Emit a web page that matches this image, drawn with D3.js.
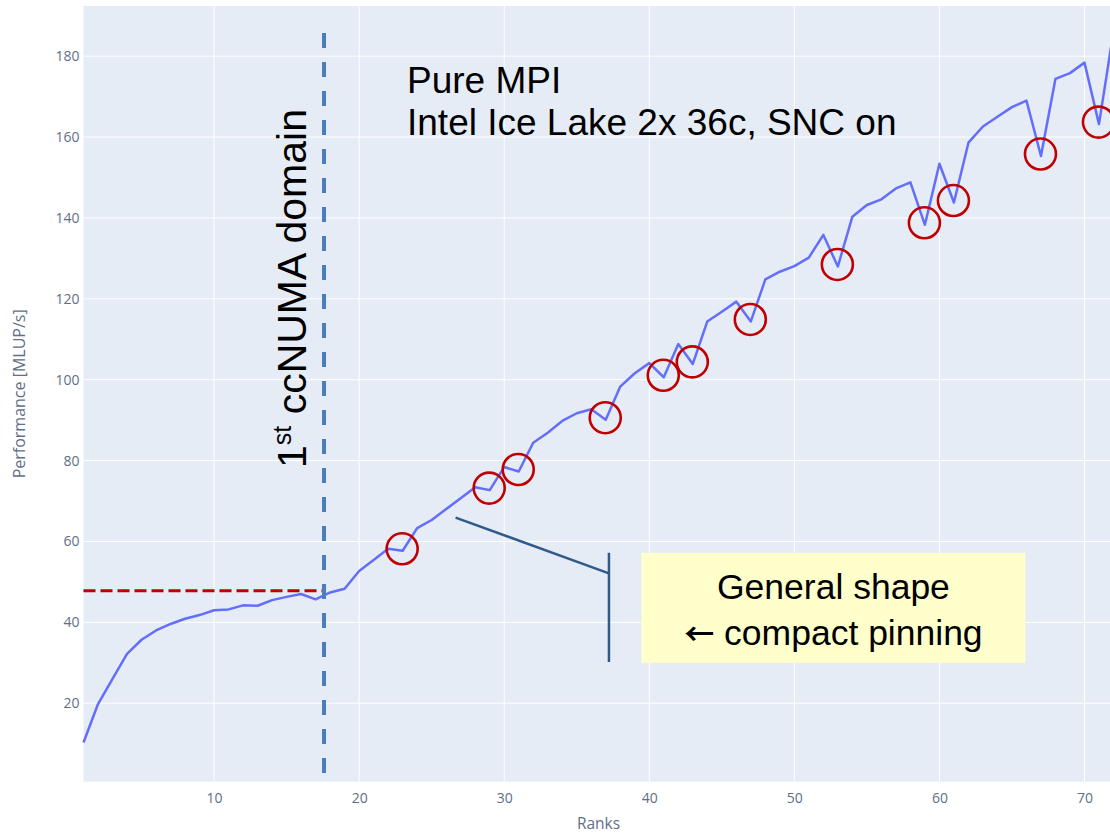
<!DOCTYPE html>
<html>
<head>
<meta charset="utf-8">
<script src="https://cdn.jsdelivr.net/npm/d3@7"></script>
<style>
  html, body { margin: 0; padding: 0; background: #fff; }
  svg { display: block; }
</style>
</head>
<body>
<div id="chart"></div>
<script>
// Performance per number of ranks
const ranks = d3.range(1, 73);
const perf = [
  10.3, 19.8, 26.0, 32.2, 35.7, 38.0, 39.6, 40.9, 41.8, 43.0,
  43.2, 44.2, 44.1, 45.5, 46.3, 47.0, 45.7, 47.4, 48.3, 52.7,
  55.4, 58.2, 57.7, 63.3, 65.3, 68.0, 70.7, 73.4, 72.7, 78.4,
  77.3, 84.4, 86.9, 89.8, 91.7, 92.7, 90.1, 98.3, 101.6, 104.1,
  100.6, 108.8, 103.9, 114.4, 116.8, 119.3, 114.4, 124.8, 126.7, 128.1,
  130.2, 135.8, 128.0, 140.3, 143.2, 144.6, 147.3, 148.8, 138.3, 153.4,
  143.8, 158.6, 162.6, 165.0, 167.4, 169.0, 155.3, 174.4, 175.8, 178.4,
  163.2, 186.2
];
// dips that are circled in red
const circled = [23, 29, 31, 37, 41, 43, 47, 53, 59, 61, 67, 71];

const xTicks = [10, 20, 30, 40, 50, 60, 70];
const yTicks = [20, 40, 60, 80, 100, 120, 140, 160, 180];

// annotations (data coordinates)
const domainRank = 17.58;        // end of 1st ccNUMA domain
const domainPerf = 47.8;         // performance of one domain
const titleLines = ["Pure MPI", "Intel Ice Lake 2x 36c, SNC on"];
const boxLines = [["", "General shape"], ["\u2190", " compact pinning"]];

/* SETUP */
const width = 1110, height = 835;
const margin = { left: 83.5, top: 6, right: -3.5, bottom: 53.3 };

const svg = d3.select("#chart").append("svg")
  .attr("width", width)
  .attr("height", height);

const x = d3.scaleLinear().domain([1, 72]).range([margin.left, width - margin.right]);
const y = d3.scaleLinear().domain([0.6, 192.4]).range([height - margin.bottom, margin.top]);

// background
svg.append("rect")
  .attr("x", x(1)).attr("y", y(192.4))
  .attr("width", x(72) - x(1)).attr("height", y(0.6) - y(192.4))
  .attr("fill", "#E5ECF6");

// gridlines
svg.append("g").selectAll("line").data(xTicks).join("line")
  .attr("x1", d => x(d)).attr("x2", d => x(d))
  .attr("y1", y(0.6)).attr("y2", y(192.4))
  .attr("stroke", "#fff").attr("stroke-width", 1);

svg.append("g").selectAll("line").data(yTicks).join("line")
  .attr("x1", x(1)).attr("x2", x(72))
  .attr("y1", d => y(d)).attr("y2", d => y(d))
  .attr("stroke", "#fff").attr("stroke-width", 1);

// axes
const xAxis = svg.append("g")
  .attr("transform", `translate(0,${y(0.6)})`)
  .call(d3.axisBottom(x).tickValues(xTicks).tickSize(0).tickPadding(11));
const yAxis = svg.append("g")
  .attr("transform", `translate(${x(1)},0)`)
  .call(d3.axisLeft(y).tickValues(yTicks).tickSize(0).tickPadding(4));

[xAxis, yAxis].forEach(a => {
  a.select(".domain").remove();
  a.selectAll("text")
    .attr("fill", "#5f6f86")
    .style("font-family", "'Open Sans', sans-serif")
    .style("font-size", "14px");
});

svg.append("text")
  .attr("x", (x(1) + x(72)) / 2).attr("y", 829)
  .attr("text-anchor", "middle")
  .attr("fill", "#5f6f86")
  .style("font-family", "'Open Sans', sans-serif")
  .style("font-size", "15.5px")
  .text("Ranks");

svg.append("text")
  .attr("transform", `translate(25,${(y(0.6) + y(192.4)) / 2}) rotate(-90)`)
  .attr("text-anchor", "middle")
  .attr("fill", "#5f6f86")
  .style("font-family", "'Open Sans', sans-serif")
  .style("font-size", "16px")
  .text("Performance [MLUP/s]");

// red dashed: single domain level
svg.append("line")
  .attr("x1", x(1)).attr("x2", x(domainRank))
  .attr("y1", y(domainPerf)).attr("y2", y(domainPerf))
  .attr("stroke", "#C00000").attr("stroke-width", 3)
  .attr("stroke-dasharray", "12,5");

// performance line
const line = d3.line().x((d, i) => x(ranks[i])).y(d => y(d));
svg.append("path")
  .datum(perf)
  .attr("d", line)
  .attr("fill", "none")
  .attr("stroke", "#636EFA")
  .attr("stroke-width", 2.5)
  .attr("stroke-linejoin", "round");

// blue dashed: end of first ccNUMA domain
svg.append("line")
  .attr("x1", x(domainRank)).attr("x2", x(domainRank))
  .attr("y1", y(185.7)).attr("y2", y(1.2))
  .attr("stroke", "#4A7EBB").attr("stroke-width", 4)
  .attr("stroke-dasharray", "15,14");

// circles around dips
svg.append("g").selectAll("circle").data(circled).join("circle")
  .attr("cx", d => x(d) - 0.5)
  .attr("cy", d => y(perf[d - 1]) - 2)
  .attr("r", 15.5)
  .attr("fill", "none")
  .attr("stroke", "#C00000")
  .attr("stroke-width", 2.6);

// rotated label
const rot = svg.append("text")
  .attr("transform", `translate(306,468) rotate(-90)`)
  .style("font-family", "'Liberation Sans', Arial, sans-serif")
  .style("font-size", "41px")
  .attr("fill", "#000");
rot.append("tspan").text("1");
rot.append("tspan").attr("dy", "-15").style("font-size", "25px").text("st");
rot.append("tspan").attr("dy", "15").text(" ccNUMA domain");

// title text
svg.append("g").selectAll("text").data(titleLines).join("text")
  .attr("x", 407)
  .attr("y", (d, i) => 92.5 + i * 42.5)
  .style("font-family", "'Liberation Sans', Arial, sans-serif")
  .style("font-size", "37px")
  .attr("fill", "#000")
  .text(d => d);

// pointer line to the box
const pointer = [[26.65, 65.9], [37.22, 52.1]];
svg.append("path")
  .attr("d", d3.line().x(d => x(d[0])).y(d => y(d[1]))(pointer))
  .attr("fill", "none").attr("stroke", "#2F5A8A").attr("stroke-width", 2.5);
svg.append("line")
  .attr("x1", x(37.22)).attr("x2", x(37.22))
  .attr("y1", y(57.2)).attr("y2", y(30.2))
  .attr("stroke", "#2F5A8A").attr("stroke-width", 2.5);

// yellow box
svg.append("rect")
  .attr("x", x(39.46)).attr("y", y(57.2))
  .attr("width", x(65.93) - x(39.46)).attr("height", y(30.0) - y(57.2))
  .attr("fill", "#FFFFCC");

const boxText = svg.append("g").selectAll("text").data(boxLines).join("text")
  .attr("x", (x(39.46) + x(65.93)) / 2)
  .attr("y", (d, i) => 599 + i * 46)
  .attr("text-anchor", "middle")
  .style("font-family", "'Liberation Sans', Arial, sans-serif")
  .style("font-size", "35.5px")
  .attr("fill", "#000");
boxText.append("tspan")
  .style("font-family", "'Noto Sans CJK JP', 'DejaVu Sans', sans-serif")
  .style("font-weight", "bold")
  .style("font-size", "30px")
  .text(d => d[0]);
boxText.append("tspan").text(d => d[1]);
</script>
</body>
</html>
